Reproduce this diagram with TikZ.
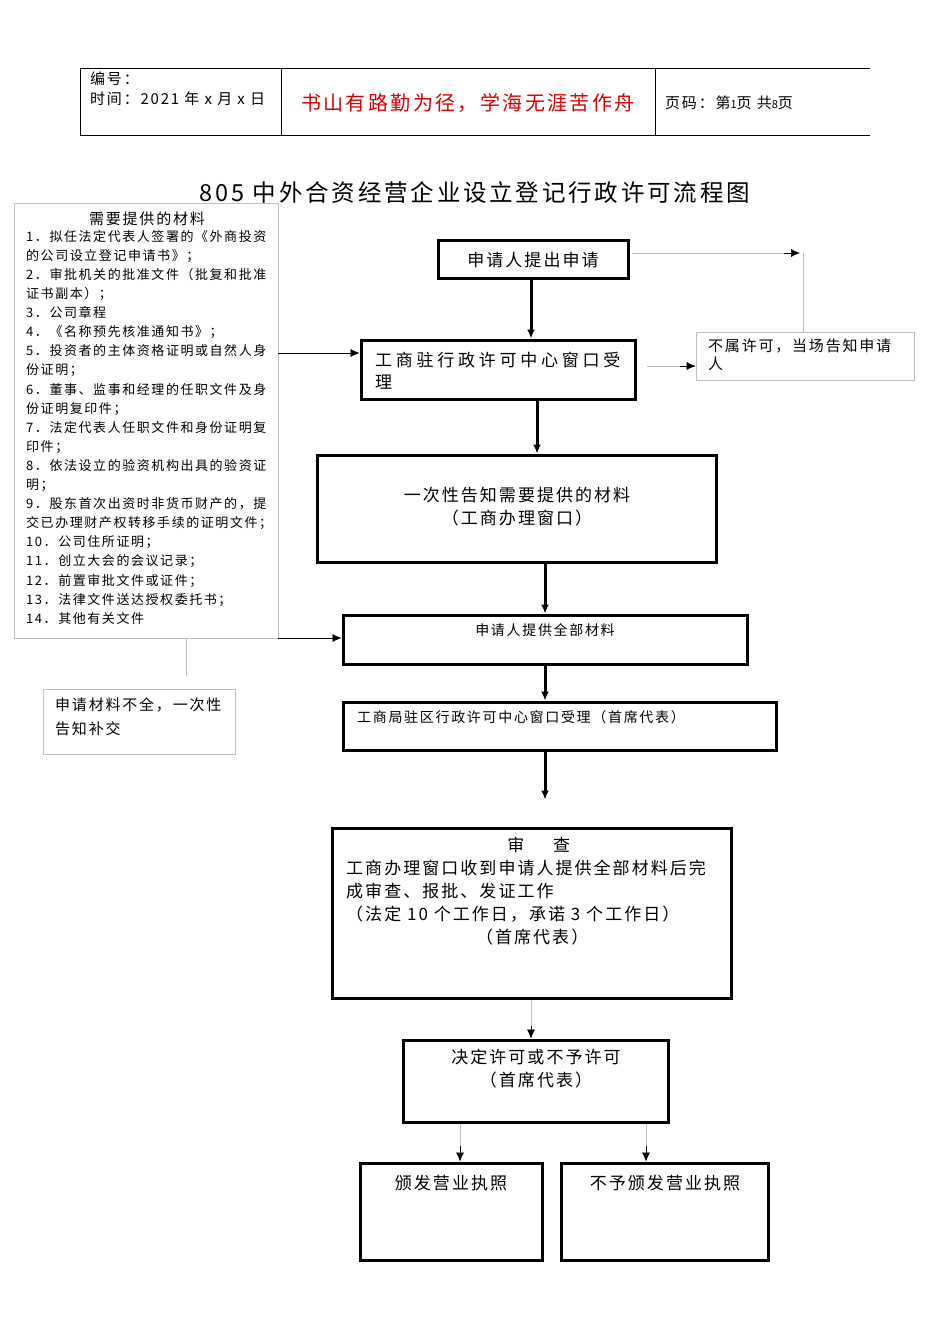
\documentclass[tikz,border=0pt]{standalone}
\usepackage{fontspec}
\setmainfont{Noto Sans CJK SC}[LetterSpace=12]
\usetikzlibrary{arrows.meta, positioning}

\begin{document}
\begin{tikzpicture}[
        x=1pt, y=-1pt,
        boldbox/.style={rectangle, draw, line width=3pt, inner sep=0pt},
        thinbox/.style={rectangle, draw=black!25, line width=0.8pt, inner sep=0pt},
        boxtext/.style={inner sep=0pt, font=\fontsize{17}{23}\selectfont, align=left},
        smalltext/.style={inner sep=0pt, font=\fontsize{14}{19}\selectfont, align=left},
        arrow/.style={-{Latex[length=9pt,width=8pt]}, line width=0.5pt},
        boldarrow/.style={-{Latex[length=9pt,width=8pt]}, line width=3pt},
        grayline/.style={draw=black!25, line width=0.8pt},
        ]
    \useasboundingbox (0,0) rectangle (950,1344);

        % Header
        \draw[line width=0.7pt] (80,68) -- (870,68) (80,135) -- (870,135)
            (80,68) -- (80,135) (281,68) -- (281,135) (655,68) -- (655,135);
        \node[smalltext, anchor=west, font=\fontsize{15}{19}\selectfont] (hdrNo) at (90,79) {编号：};
        \node[smalltext, anchor=west, font=\fontsize{15}{19}\selectfont] (hdrDate) at (90,99) {时间：2021 年 x 月 x 日};
        \node[inner sep=0pt, text=red!85!black, font=\fontsize{20}{24}\selectfont] (motto) at (468,103) {书山有路勤为径，学海无涯苦作舟};
        \node[smalltext, anchor=west, font=\fontsize{15}{19}\selectfont] (hdrPage) at (665,103) {页码：第{\fontsize{11}{13}\selectfont 1}页 共{\fontsize{11}{13}\selectfont 8}页};

        % Title
        \node[inner sep=0pt, font=\fontsize{23.5}{28}\selectfont] (title) at (475,192) {805 中外合资经营企业设立登记行政许可流程图};

        % Materials list
        \node[thinbox, minimum width=264pt, minimum height=435pt] (materials) at (146,420.5) {};
        \node[inner sep=0pt, font=\fontsize{15}{19}\selectfont] (matTitle) at (147,219) {需要提供的材料};
        \node[inner sep=0pt, anchor=north west, font=\fontsize{13}{19.1}\selectfont, align=left] (matList) at (26,230) {%
            1．拟任法定代表人签署的《外商投资\\
            的公司设立登记申请书》；\\
            2．审批机关的批准文件（批复和批准\\
            证书副本）；\\
            3．公司章程\\
            4．《名称预先核准通知书》；\\
            5．投资者的主体资格证明或自然人身\\
            份证明；\\
            6．董事、监事和经理的任职文件及身\\
            份证明复印件；\\
            7．法定代表人任职文件和身份证明复\\
            印件；\\
            8．依法设立的验资机构出具的验资证\\
            明；\\
            9．股东首次出资时非货币财产的，提\\
            交已办理财产权转移手续的证明文件；\\
            10．公司住所证明；\\
            11．创立大会的会议记录；\\
            12．前置审批文件或证件；\\
            13．法律文件送达授权委托书；\\
            14．其他有关文件};

        % Flow boxes
        \node[boldbox, minimum width=190pt, minimum height=38pt] (apply) at (533,259) {};
        \node[boxtext] (applyText) at (533,260) {申请人提出申请};
        \node[boldbox, minimum width=274pt, minimum height=59pt] (accept) at (498,369.5) {};
        \node[boxtext, anchor=north west, font=\fontsize{17}{22}\selectfont\addfontfeatures{LetterSpace=22}] (acceptText) at (375,352) {工商驻行政许可中心窗口受\\理};
        \node[thinbox, minimum width=218pt, minimum height=48pt] (reject) at (805,356) {};
        \node[boxtext, anchor=north west, font=\fontsize{15}{18}\selectfont] (rejectText) at (708,339) {不属许可，当场告知申请\\人};
        \node[boldbox, minimum width=399pt, minimum height=107pt] (notify) at (516.5,508.5) {};
        \node[boxtext, align=center, anchor=north] (notifyText) at (517,487) {一次性告知需要提供的材料\\（工商办理窗口）};
        \node[boldbox, minimum width=404pt, minimum height=49pt] (submit) at (545,639.5) {};
        \node[smalltext] (submitText) at (545,630) {申请人提供全部材料};
        \node[thinbox, minimum width=192pt, minimum height=65pt] (incomplete) at (139,721.5) {};
        \node[boxtext, anchor=north west, font=\fontsize{15}{24}\selectfont] (incompleteText) at (55,698) {申请材料不全，一次性\\告知补交};
        \node[boldbox, minimum width=433pt, minimum height=48pt] (window) at (559.5,726) {};
        \node[smalltext, anchor=west] (windowText) at (357,717) {工商局驻区行政许可中心窗口受理（首席代表）};
        \node[boldbox, minimum width=399pt, minimum height=170pt] (review) at (531.5,913) {};
        \node[boxtext, anchor=north west] (reviewText) at (346,837) {%
            \makebox[385pt]{审\quad\ \ 查}\\
            工商办理窗口收到申请人提供全部材料后完\\
            成审查、报批、发证工作\\
            （法定 10 个工作日，承诺 3 个工作日）\\
            \makebox[372pt]{（首席代表）}};
        \node[boldbox, minimum width=265pt, minimum height=82pt] (decide) at (535.5,1081) {};
        \node[boxtext, align=center, anchor=north] (decideText) at (536,1049) {决定许可或不予许可\\（首席代表）};
        \node[boldbox, minimum width=182pt, minimum height=97pt] (issue) at (451,1211.5) {};
        \node[boxtext, anchor=north] (issueText) at (451,1175) {颁发营业执照};
        \node[boldbox, minimum width=207pt, minimum height=97pt] (refuse) at (664.5,1211.5) {};
        \node[boxtext, anchor=north] (refuseText) at (665,1175) {不予颁发营业执照};

        % Free ends
        \coordinate (applyOut) at (632,253);
        \coordinate (applyTip) at (784,253);
        \coordinate (rejectTop) at (803,253);
        \coordinate (matOut) at (278,353);
        \coordinate (matBottom) at (278,638);

        % Connectors
        \draw[boldarrow] (apply.south -| 531,0) -- (accept.north -| 531,0);
        \draw[grayline] (applyOut) -- (applyTip);
        \draw[arrow] (applyTip) -- ++(16,0);
        \draw[grayline] (rejectTop) -- (reject.north -| rejectTop);
        \draw[arrow] (matOut) -- (accept.west |- matOut);
        \draw[grayline] (647,366) -- (680,366);
        \draw[arrow] (680,366) -- (reject.west |- 0,366);
        \draw[boldarrow] (accept.south -| 537,0) -- (notify.north -| 537,0);
        \draw[boldarrow] (notify.south -| 545,0) -- (submit.north -| 545,0);
        \draw[arrow] (matBottom) -- (submit.west |- matBottom);
        \draw[grayline] (materials.south -| 186,0) -- (186,676);
        \draw[boldarrow] (submit.south -| 545,0) -- (window.north -| 545,0);
        \draw[boldarrow] (window.south -| 545,0) -- ++(0,48);
        \draw[grayline] (review.south -| 531,0) -- ++(0,30);
        \draw[arrow] (531,1026) -- (decide.north -| 531,0);
        \draw[grayline] (decide.south -| 460,0) -- ++(0,26);
        \draw[arrow] (460,1146) -- (issue.north -| 460,0);
        \draw[grayline] (decide.south -| 646,0) -- ++(0,26);
        \draw[arrow] (646,1146) -- (refuse.north -| 646,0);

    \end{tikzpicture}
\end{document}
